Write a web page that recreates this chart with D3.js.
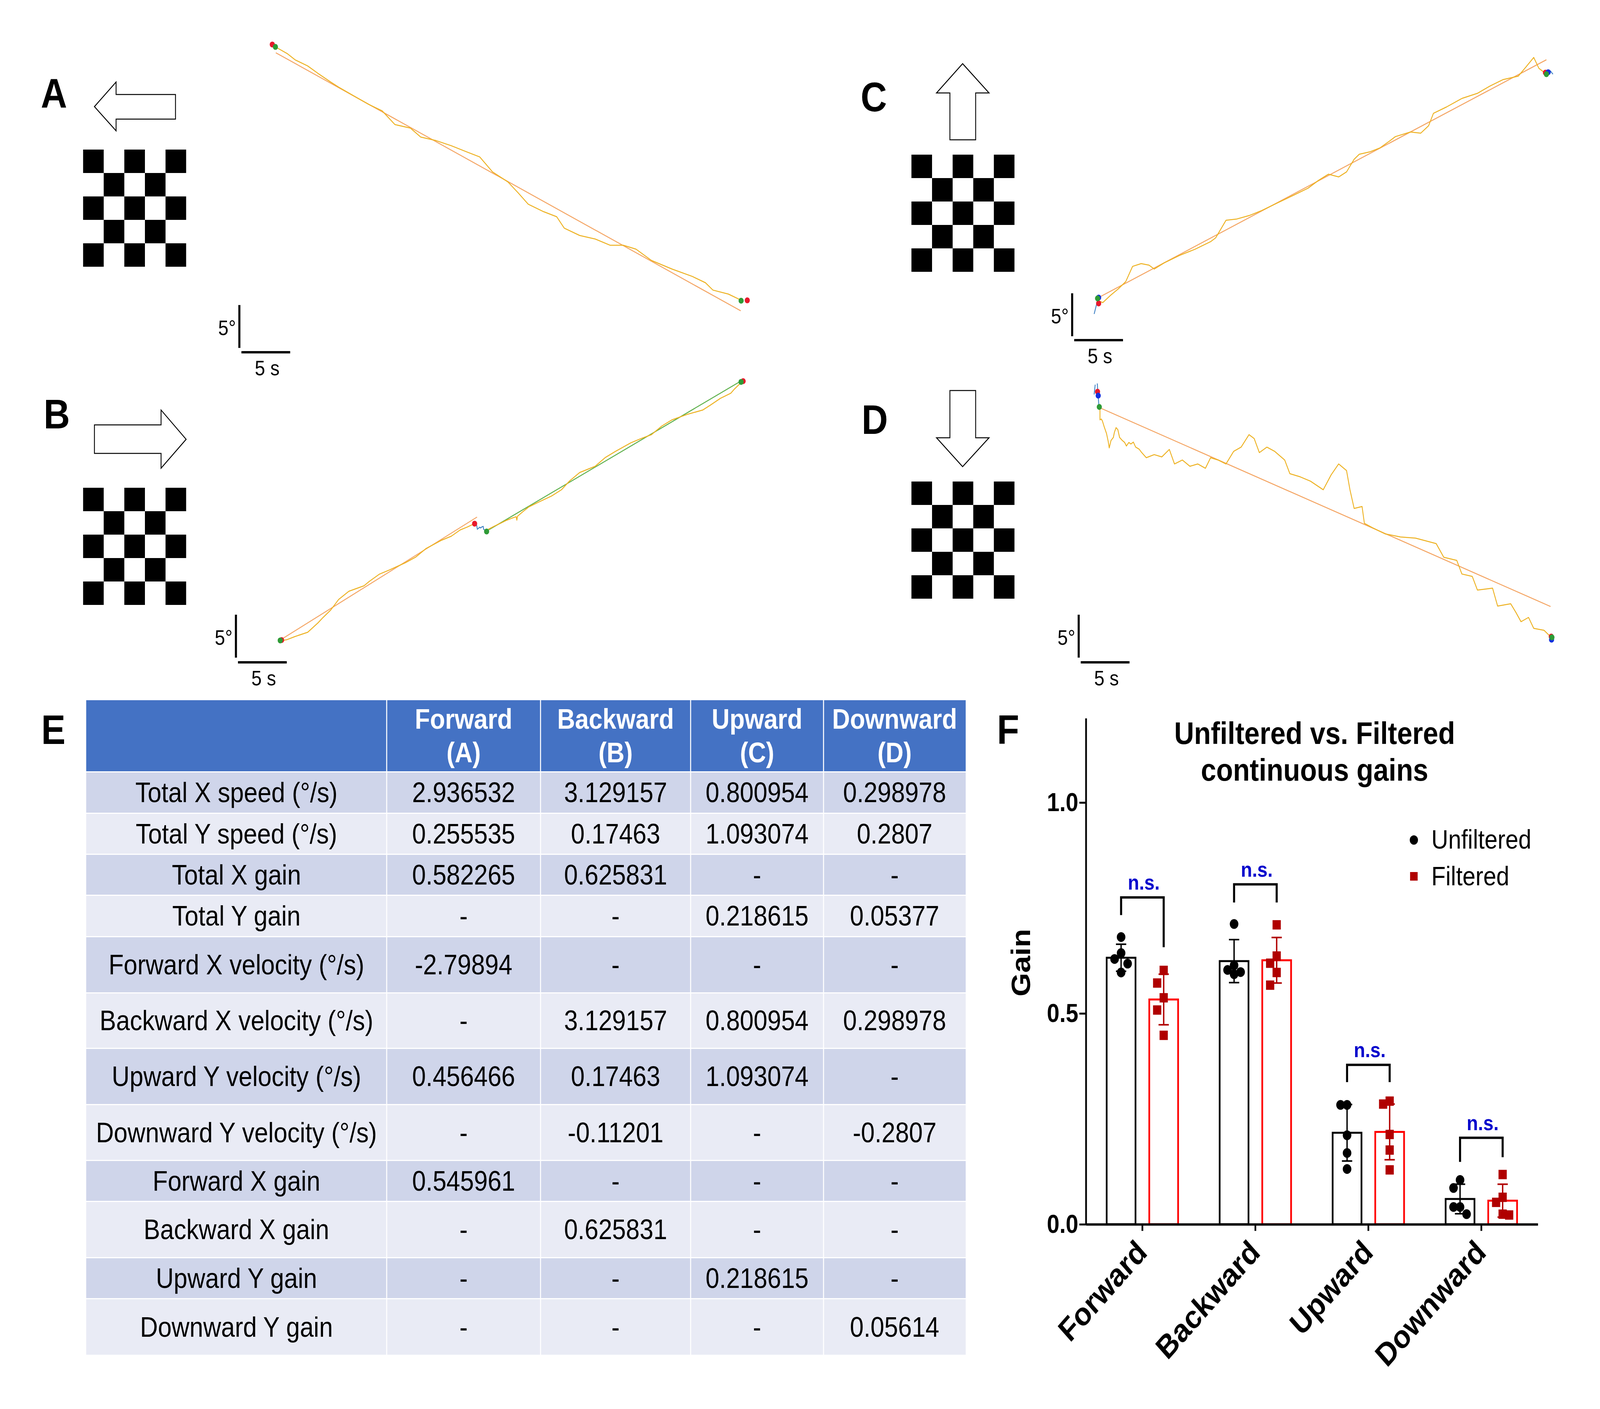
<!DOCTYPE html>
<html>
<head>
<meta charset="utf-8">
<script src="https://cdn.jsdelivr.net/npm/d3@7"></script>
<style>
html, body { margin: 0; padding: 0; background: #fff; overflow: hidden; }
svg { display: block; width: 100vw; height: 100vh; }
</style>
</head>
<body>
<svg id="fig"></svg>
<script>
// ---- traces (time in s, position in deg, from each trace start) ----
var traceA = [[0,0],[1.41,-0.91],[2.22,-1.64],[3.52,-2.36],[4.58,-3.23],[5.88,-4.23],[6.69,-4.82],[8.27,-5.86],[9.82,-6.86],[11.16,-7.59],[12.46,-9.18],[14.05,-9.59],[15.11,-10.64],[16.69,-11.05],[18.24,-11.64],[19.82,-12.36],[21.16,-12.95],[22.46,-14.68],[24.05,-15.86],[25.11,-17.14],[26.13,-18.45],[27.71,-19.32],[29.05,-19.91],[29.82,-21.23],[31.41,-22.09],[32.99,-22.5],[34.54,-23.23],[35.88,-23.23],[37.18,-23.68],[38.77,-25.0],[40.88,-26.0],[42.96,-26.86],[44.3,-27.59],[45.07,-28.45],[46.65,-28.91],[48.06,-29.68]];
var fitA = [[0.25,-0.82],[47.92,-30.86]];
var redA = [[-0.11,0.14],[48.59,-29.64]];
var greenA = [[0.21,-0.14],[47.96,-29.68]];

var traceB1 = [[0,0],[0.7,0.14],[1.51,0.5],[2.82,1.0],[3.87,2.09],[4.4,2.73],[5.18,3.59],[5.99,4.82],[7.04,5.77],[8.59,6.41],[9.12,6.91],[10.18,7.77],[11.23,8.27],[12.82,9.09],[13.87,9.73],[14.93,10.73],[16.48,11.68],[17.54,12.18],[18.45,12.91],[19.15,13.23],[19.75,13.55],[19.93,13.64]];
var fitB1 = [[0.07,0.14],[20.18,14.41]];
var wiggleB = [[19.93,13.64],[20.14,13.45],[20.21,13.0],[20.32,13.09],[20.46,13.23],[20.56,13.14],[20.67,13.27],[20.81,13.32],[20.85,13.0],[20.99,12.86],[21.16,12.73]];
var traceB2 = [[21.16,12.73],[21.37,13.0],[21.97,13.36],[22.57,13.68],[23.13,14.0],[23.73,14.27],[24.19,14.45],[24.26,14.05],[24.33,14.5],[24.79,14.95],[25.49,15.59],[26.48,16.14],[27.82,16.86],[28.84,17.59],[29.65,18.59],[30.7,19.59],[32.29,20.32],[33.31,21.32],[34.37,22.05],[35.95,23.05],[37.01,23.55],[38.06,24.0],[39.12,25.0],[40.18,25.73],[41.73,26.36],[43.31,26.86],[44.12,27.45],[45.14,28.23],[46.2,28.82],[46.58,29.32],[47.36,30.18]];
var fitB2 = [[21.37,12.91],[47.36,30.32]];
var redB = [[0.14,0.09],[19.93,13.64],[47.46,30.23]];
var greenB = [[0,0.05],[21.16,12.73],[47.25,30.14]];

var traceC = [[0,0],[0.53,-0.27],[1.34,0.59],[2.11,1.32],[2.89,2.18],[3.59,3.95],[4.47,4.27],[5.28,4.09],[5.81,3.64],[6.83,4.36],[8.42,5.23],[10.0,5.95],[11.58,6.82],[12.11,7.27],[13.17,9.32],[14.23,9.45],[15.53,9.86],[16.83,10.45],[18.42,11.32],[20.0,12.18],[21.58,13.05],[22.64,13.95],[23.66,14.68],[24.72,14.36],[25.53,14.95],[26.3,16.41],[26.83,17.0],[27.89,17.27],[28.94,17.73],[30.0,18.59],[30.53,19.05],[32.08,19.59],[33.13,19.45],[33.94,20.32],[34.44,21.77],[35.77,22.5],[37.36,23.5],[38.94,24.09],[40.25,24.95],[41.55,25.68],[43.13,26.09],[43.91,27.14],[44.72,28.27],[45.25,27.0],[45.77,26.55],[46.2,26.36]];
var fitC = [[0.11,0.32],[46.02,28.0]];
var blueLinesC = [[[-0.35,-1.59],[-0.11,-0.5],[0,0.14]],[[46.2,26.55],[46.44,26.68],[46.69,26.32]]];
var redC = [[0.11,-0.36],[45.92,26.5]];
var blueC = [[0.11,0.32],[46.2,26.55]];
var greenC = [[0,0.23],[46.02,26.32]];

var traceD = [[-0.14,0],[-0.07,-0.36],[-0.07,-1.5],[0.07,-1.41],[0.18,-1.64],[0.35,-2.27],[0.6,-3.09],[0.77,-4.0],[0.88,-4.77],[1.06,-3.91],[1.3,-3.55],[1.41,-2.95],[1.58,-2.41],[1.76,-2.64],[1.94,-3.55],[2.18,-3.86],[2.46,-4.14],[2.64,-4.55],[2.89,-4.14],[3.1,-4.32],[3.35,-4.09],[3.59,-4.68],[3.94,-4.91],[4.15,-5.23],[4.68,-5.91],[5.49,-5.55],[6.27,-5.82],[7.04,-4.95],[7.57,-6.64],[8.38,-6.18],[9.15,-6.91],[9.96,-6.64],[10.74,-7.14],[11.27,-5.91],[12.04,-6.18],[12.85,-6.64],[13.63,-5.18],[14.4,-4.68],[15.21,-3.23],[15.74,-3.68],[16.27,-5.32],[17.04,-4.68],[17.85,-5.18],[18.87,-6.18],[19.4,-7.77],[20.46,-8.14],[21.51,-8.64],[22.82,-9.64],[23.63,-7.91],[24.4,-6.64],[25.21,-7.41],[25.56,-9.64],[25.99,-11.82],[26.8,-11.59],[27.04,-13.55],[27.85,-14.05],[29.15,-14.77],[30.74,-15.14],[32.29,-15.27],[34.4,-15.91],[35.18,-17.5],[36.51,-17.86],[37.04,-19.45],[38.1,-19.73],[38.63,-21.32],[40.18,-21.09],[40.7,-23.18],[42.04,-22.91],[42.57,-23.91],[43.1,-25.0],[43.87,-24.5],[44.4,-25.77],[45.46,-26.0],[46.23,-26.86]];
var fitD = [[0,-0.14],[46.13,-23.23]];
var blueLinesD = [[[-0.56,2.59],[-0.67,1.45]],[[-0.35,2.73],[-0.18,0.09]]];
var redD = [[-0.32,1.77],[46.2,-26.73]];
var blueD = [[-0.25,1.32],[46.23,-27.09]];
var greenD = [[-0.14,0],[46.27,-26.82]];

// ---- table E ----
var tableHeader = [[], ["Forward", "(A)"], ["Backward", "(B)"], ["Upward", "(C)"], ["Downward", "(D)"]];
var rowLabels = ["Total X speed (°/s)", "Total Y speed (°/s)", "Total X gain", "Total Y gain",
  "Forward X velocity (°/s)", "Backward X velocity (°/s)", "Upward Y velocity (°/s)", "Downward Y velocity (°/s)",
  "Forward X gain", "Backward X gain", "Upward Y gain", "Downward Y gain"];
var tableValues = [
  ["2.936532", "3.129157", "0.800954", "0.298978"],
  ["0.255535", "0.17463", "1.093074", "0.2807"],
  ["0.582265", "0.625831", "-", "-"],
  ["-", "-", "0.218615", "0.05377"],
  ["-2.79894", "-", "-", "-"],
  ["-", "3.129157", "0.800954", "0.298978"],
  ["0.456466", "0.17463", "1.093074", "-"],
  ["-", "-0.11201", "-", "-0.2807"],
  ["0.545961", "-", "-", "-"],
  ["-", "0.625831", "-", "-"],
  ["-", "-", "0.218615", "-"],
  ["-", "-", "-", "0.05614"]];

// ---- chart F ----
var categories = ["Forward", "Backward", "Upward", "Downward"];
var groups = ["Unfiltered", "Filtered"];
var unfilteredPts = [[0.681,0.643,0.629,0.618,0.597],[0.712,0.614,0.603,0.598,0.593],[0.283,0.283,0.211,0.169,0.131],[0.105,0.086,0.041,0.041,0.024]];
var filteredPts = [[0.602,0.572,0.537,0.508,0.448],[0.710,0.636,0.619,0.597,0.567],[0.292,0.285,0.213,0.176,0.129],[0.118,0.064,0.052,0.024,0.022]];
var unfilteredMean = [0.632, 0.624, 0.217, 0.060];
var unfilteredSD = [0.032, 0.051, 0.067, 0.035];
var filteredMean = [0.533, 0.626, 0.219, 0.056];
var filteredSD = [0.060, 0.054, 0.066, 0.039];
var bracketTop = [0.775, 0.806, 0.378, 0.205];
var bracketFeet = [[0.733,0.657],[0.763,0.763],[0.337,0.337],[0.148,0.159]];
var yTicks = [0, 0.5, 1.0];

//drawing is done in the reference's 4659x3608 frame, stretched to the window
var W = 4659, H = 3608;
var FONT = "'Liberation Sans', Arial, Helvetica, sans-serif";
var svg = d3.select("#fig").attr("viewBox", "0 0 " + W + " " + H)
  .attr("preserveAspectRatio", "none")
  .style("font-family", FONT);

//pixels per second and per degree (from the 5 s / 5 deg bars)
var pxSec = 28.4, pxDeg = 22;

var TRACE = "#EDB120", FIT = "#F4A462", FITGREEN = "#5DB04B";
var DOTRED = "#E8192C", DOTGREEN = "#2E9B36", DOTBLUE = "#1230E0", LINEBLUE = "#3D80C4";

function panelLabel(txt, x, y) {
  svg.append("text").attr("x", x).attr("y", y).text(txt)
    .attr("font-size", 106).attr("font-weight", "bold").attr("fill", "#000");
}

function arrow(points) {
  svg.append("polygon").attr("points", points.map(function (p) { return p.join(","); }).join(" "))
    .attr("fill", "#fff").attr("stroke", "#000").attr("stroke-width", 2.5);
}

function checker(x0, y0) {
  var cell = 60;
  var g = svg.append("g");
  d3.range(5).forEach(function (r) {
    d3.range(5).forEach(function (c) {
      if ((r + c) % 2 == 0)
        g.append("rect").attr("x", x0 + c * cell).attr("y", y0 + r * cell)
          .attr("width", cell).attr("height", cell).attr("fill", "#000");
    });
  });
}

function tracePanel(cfg) {
  var x = d3.scaleLinear().domain([0, 1]).range([cfg.x0, cfg.x0 + pxSec]);
  var y = d3.scaleLinear().domain([0, 1]).range([cfg.y0, cfg.y0 - pxDeg]);
  var line = d3.line().x(function (d) { return x(d[0]); }).y(function (d) { return y(d[1]); });
  var g = svg.append("g");

  cfg.fits.forEach(function (f) {
    g.append("path").attr("d", line(f[0])).attr("fill", "none")
      .attr("stroke", f[1]).attr("stroke-width", 2.5);
  });
  cfg.traces.forEach(function (t) {
    g.append("path").attr("d", line(t)).attr("fill", "none")
      .attr("stroke", TRACE).attr("stroke-width", 2.5).attr("stroke-linejoin", "round");
  });
  (cfg.blue || []).forEach(function (t) {
    g.append("path").attr("d", line(t)).attr("fill", "none")
      .attr("stroke", LINEBLUE).attr("stroke-width", 2.5);
  });
  [[cfg.red, DOTRED], [cfg.blueDots, DOTBLUE], [cfg.green, DOTGREEN]].forEach(function (set) {
    if (!set[0]) return;
    g.selectAll(null).data(set[0]).enter().append("circle")
      .attr("cx", function (d) { return x(d[0]); })
      .attr("cy", function (d) { return y(d[1]); })
      .attr("r", 7.5).attr("fill", set[1]);
  });

  //scale bars 5 deg / 5 s
  var sb = cfg.bar;
  var vLen = y(0) - y(5), hLen = x(5) - x(0);
  g.append("line").attr("x1", sb.vx).attr("x2", sb.vx).attr("y1", sb.vy).attr("y2", sb.vy + vLen)
    .attr("stroke", "#000").attr("stroke-width", 6);
  g.append("line").attr("x1", sb.hx).attr("x2", sb.hx + hLen).attr("y1", sb.hy).attr("y2", sb.hy)
    .attr("stroke", "#000").attr("stroke-width", 6);
  g.append("text").attr("x", sb.vx - 10).attr("y", sb.vy + vLen / 2 + 22)
    .attr("text-anchor", "end").attr("font-size", 54).text("5°");
  g.append("text").attr("x", sb.hx + hLen / 2 + 4).attr("y", sb.hy + 59)
    .attr("text-anchor", "middle").attr("font-size", 54).text("5 s");
}

// ---- panels A-D ----
panelLabel("A", 119, 276);
arrow([[275,273],[338,210],[338,242],[511,242],[511,305],[338,305],[338,335]]);
checker(242, 383);
tracePanel({ x0: 796, y0: 117, traces: [traceA], fits: [[fitA, FIT]], red: redA, green: greenA,
  bar: { vx: 697, vy: 781, hx: 703, hy: 902 } });

panelLabel("B", 127, 1097);
arrow([[275,1088],[469,1088],[469,1050],[542,1125],[469,1199],[469,1161],[275,1161]]);
checker(242, 1249);
tracePanel({ x0: 816, y0: 1641, traces: [traceB1, traceB2], fits: [[fitB1, FIT], [fitB2, FITGREEN]],
  blue: [wiggleB], red: redB, green: greenB,
  bar: { vx: 687, vy: 1574, hx: 693, hy: 1696 } });

panelLabel("C", 2506, 285);
arrow([[2803,163],[2880,238],[2841,238],[2841,358],[2766,358],[2766,238],[2727,238]]);
checker(2654, 396);
tracePanel({ x0: 3196, y0: 769, traces: [traceC], fits: [[fitC, FIT]], blue: blueLinesC,
  red: redC, blueDots: blueC, green: greenC,
  bar: { vx: 3122, vy: 751, hx: 3128, hy: 871 } });

panelLabel("D", 2509, 1111);
arrow([[2766,1000],[2841,1000],[2841,1121],[2880,1121],[2803,1195],[2727,1121],[2766,1121]]);
checker(2654, 1233);
tracePanel({ x0: 3205, y0: 1042, traces: [traceD], fits: [[fitD, FIT]], blue: blueLinesD,
  red: redD, blueDots: blueD, green: greenD,
  bar: { vx: 3141, vy: 1574, hx: 3147, hy: 1696 } });

// ---- table E ----
panelLabel("E", 120, 1905);
var colEdges = [251, 1126, 1574, 2011, 2398, 2812];
var headTop = 1793, headH = 182, bodyTop = 1978;
var rowPitch = [106, 105, 105, 106, 144, 142, 144, 143, 105, 144, 105, 142];
var gT = svg.append("g");
gT.append("rect").attr("x", colEdges[0]).attr("y", headTop).attr("width", colEdges[5] - colEdges[0])
  .attr("height", headH).attr("fill", "#4472C4");
tableHeader.forEach(function (lines, i) {
  var cx = (colEdges[i] + colEdges[i + 1]) / 2;
  lines.forEach(function (l, k) {
    gT.append("text").attr("x", cx).attr("y", headTop + 73 + k * 86).attr("text-anchor", "middle")
      .attr("font-size", 72).attr("font-weight", "bold").attr("fill", "#fff").text(l);
  });
});
var yRow = bodyTop;
rowLabels.forEach(function (lab, r) {
  var h = rowPitch[r] - (r < rowLabels.length - 1 ? 3 : 0);
  gT.append("rect").attr("x", colEdges[0]).attr("y", yRow).attr("width", colEdges[5] - colEdges[0])
    .attr("height", h).attr("fill", r % 2 == 0 ? "#CFD5EA" : "#E9EBF5");
  var cy = yRow + h / 2 + 25;
  [lab].concat(tableValues[r]).forEach(function (v, c) {
    gT.append("text").attr("x", (colEdges[c] + colEdges[c + 1]) / 2).attr("y", cy)
      .attr("text-anchor", "middle").attr("font-size", 72).attr("fill", "#000").text(v);
  });
  yRow += rowPitch[r];
});
//white lines between columns
colEdges.slice(1, 5).forEach(function (x) {
  gT.append("line").attr("x1", x).attr("x2", x).attr("y1", headTop).attr("y2", yRow)
    .attr("stroke", "#fff").attr("stroke-width", 3);
});

// ---- chart F ----
panelLabel("F", 2903, 1905);
var yG = d3.scaleLinear().domain([0, 1.2]).range([3135, 1839]);
var xG = d3.scaleBand().domain(categories).range([3162, 4478]);
var xSub = d3.scaleBand().domain(groups).range([-104, 104]).paddingInner(0.323);
var gF = svg.append("g");

var groupData = {
  "Unfiltered": { pts: unfilteredPts, mean: unfilteredMean, sd: unfilteredSD, stroke: "#000", mark: "#000" },
  "Filtered": { pts: filteredPts, mean: filteredMean, sd: filteredSD, stroke: "#FF0000", mark: "#B00000" }
};

function cx(cat, grp) { return xG(cat) + xG.bandwidth() / 2 + xSub(grp) + xSub.bandwidth() / 2; }

//bars
groups.forEach(function (grp) {
  var gd = groupData[grp];
  gF.selectAll(null).data(categories).enter().append("rect")
    .attr("x", function (c) { return cx(c, grp) - xSub.bandwidth() / 2; })
    .attr("y", function (c, i) { return yG(gd.mean[i]); })
    .attr("width", xSub.bandwidth())
    .attr("height", function (c, i) { return yG(0) - yG(gd.mean[i]); })
    .attr("fill", "#fff").attr("stroke", gd.stroke).attr("stroke-width", 5);
});

//error bars (mean +- SD)
groups.forEach(function (grp) {
  var gd = groupData[grp];
  categories.forEach(function (c, i) {
    var x = cx(c, grp), hi = yG(gd.mean[i] + gd.sd[i]), lo = yG(gd.mean[i] - gd.sd[i]);
    gF.append("line").attr("x1", x).attr("x2", x).attr("y1", hi).attr("y2", lo)
      .attr("stroke", gd.mark).attr("stroke-width", 4);
    [hi, lo].forEach(function (yy) {
      gF.append("line").attr("x1", x - 15).attr("x2", x + 15).attr("y1", yy).attr("y2", yy)
        .attr("stroke", gd.mark).attr("stroke-width", 4);
    });
  });
});

//scatter points spread sideways when they overlap
function swarm(values, step, minGap) {
  var placed = [];
  return values.map(function (v) {
    var py = yG(v), best = 0, bestGap = -1;
    var slots = [0, -step, step];
    for (var k = 0; k < slots.length; k++) {
      var gap = d3.min(placed.filter(function (p) { return p.dx == slots[k]; }),
        function (p) { return Math.abs(p.py - py); });
      if (gap === undefined) gap = Infinity;
      if (gap >= minGap) { best = slots[k]; bestGap = gap; break; }
      if (gap > bestGap) { bestGap = gap; best = slots[k]; }
    }
    placed.push({ dx: best, py: py });
    return { dx: best, py: py };
  });
}

groups.forEach(function (grp) {
  var gd = groupData[grp];
  categories.forEach(function (c, i) {
    var pos = swarm(gd.pts[i], 19, 36), x = cx(c, grp);
    pos.forEach(function (p) {
      if (grp == "Unfiltered")
        gF.append("circle").attr("cx", x + p.dx).attr("cy", p.py).attr("r", 12.5).attr("fill", gd.mark);
      else
        gF.append("rect").attr("x", x + p.dx - 12).attr("y", p.py - 12)
          .attr("width", 24).attr("height", 24).attr("fill", gd.mark);
    });
  });
});

//significance brackets
categories.forEach(function (c, i) {
  var xl = cx(c, "Unfiltered"), xr = cx(c, "Filtered"), yt = yG(bracketTop[i]);
  gF.append("path")
    .attr("d", "M" + xl + "," + yG(bracketFeet[i][0]) + "V" + yt + "H" + xr + "V" + yG(bracketFeet[i][1]))
    .attr("fill", "none").attr("stroke", "#000").attr("stroke-width", 6);
  gF.append("text").attr("x", (xl + xr) / 2 + 4).attr("y", yt - 20).attr("text-anchor", "middle")
    .attr("font-size", 54).attr("font-weight", "bold").attr("fill", "#0000CC").text("n.s.");
});

//axes
var yAxis = d3.axisLeft(yG).tickValues(yTicks).tickFormat(d3.format(".1f"))
  .tickSize(19).tickSizeOuter(0).tickPadding(3);
var gy = gF.append("g").attr("transform", "translate(3162,0)").call(yAxis);
gy.select(".domain").attr("stroke-width", 5);
gy.selectAll(".tick line").attr("stroke-width", 5);
gy.selectAll(".tick text").attr("font-size", 66).attr("font-weight", "bold")
  .attr("font-family", FONT).attr("fill", "#000");

var xAxis = d3.axisBottom(xG).tickSize(17).tickSizeOuter(0).tickFormat("");
var gx = gF.append("g").attr("transform", "translate(0,3135)").call(xAxis);
gx.select(".domain").attr("stroke-width", 6);
gx.selectAll(".tick line").attr("stroke-width", 5);

categories.forEach(function (c) {
  var tx = xG(c) + xG.bandwidth() / 2 + 18;
  gF.append("text").attr("transform", "translate(" + tx + ",3211) rotate(-45)")
    .attr("text-anchor", "end").attr("font-size", 82).attr("font-weight", "bold").text(c);
});

gF.append("text").attr("transform", "translate(3000,2465) rotate(-90)").attr("text-anchor", "middle")
  .attr("font-size", 78).attr("font-weight", "bold").text("Gain");

gF.append("text").attr("x", 3828).attr("y", 1905).attr("text-anchor", "middle")
  .attr("font-size", 80).attr("font-weight", "bold").text("Unfiltered vs. Filtered");
gF.append("text").attr("x", 3828).attr("y", 1999).attr("text-anchor", "middle")
  .attr("font-size", 80).attr("font-weight", "bold").text("continuous gains");

//legend
gF.append("circle").attr("cx", 4117).attr("cy", 2151).attr("r", 12).attr("fill", "#000");
gF.append("text").attr("x", 4168).attr("y", 2173).attr("font-size", 68).text("Unfiltered");
gF.append("rect").attr("x", 4106).attr("y", 2233).attr("width", 22).attr("height", 22).attr("fill", "#B00000");
gF.append("text").attr("x", 4168).attr("y", 2267).attr("font-size", 68).text("Filtered");
</script>
</body>
</html>
